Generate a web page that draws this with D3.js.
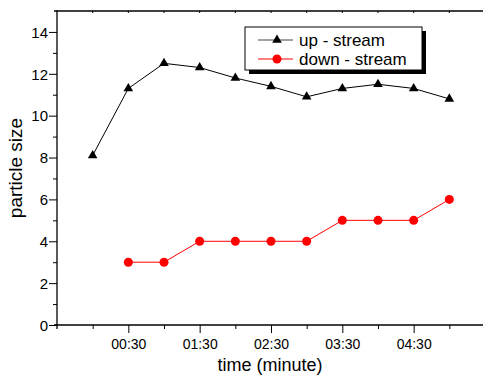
<!DOCTYPE html>
<html>
<head>
<meta charset="utf-8">
<script src="https://cdn.jsdelivr.net/npm/d3@7"></script>
<style>
  body { margin: 0; background: #fff; }
  svg { display: block; font-family: "Liberation Sans", Arial, sans-serif; }
</style>
</head>
<body>
<div id="chart"></div>
<script>
// sample times, one every 30 s
const times = ['00:00', '00:30', '01:00', '01:30', '02:00', '02:30', '03:00', '03:30', '04:00', '04:30', '05:00'];
const tickLabels = ['00:30', '01:30', '02:30', '03:30', '04:30'];
const upStream = [8.1, 11.3, 12.5, 12.3, 11.8, 11.4, 10.9, 11.3, 11.5, 11.3, 10.8];
// down-stream starts at 00:30
const downTimes = times.slice(1);
const downStream = [3, 3, 4, 4, 4, 4, 5, 5, 5, 6];
const yTicks = [0, 2, 4, 6, 8, 10, 12, 14];

const width = 483;
const height = 376;
const margin = { top: 11, left: 57, bottom: 51 };

const svg = d3.select('#chart').append('svg')
  .attr('width', width)
  .attr('height', height);

const x = d3.scaleLinear().domain([-1, 11]).range([margin.left, 485]);
const y = d3.scaleLinear().domain([0, 15]).range([height - margin.bottom, margin.top]);
const xi = t => x(times.indexOf(t));

// frame top line with small inward ticks
svg.append('line')
  .attr('x1', margin.left - 3).attr('x2', width)
  .attr('y1', y(15)).attr('y2', y(15))
  .attr('stroke', '#000').attr('stroke-width', 1.3);
svg.append('g')
  .selectAll('line')
  .data(d3.range(0, 11))
  .enter().append('line')
  .attr('x1', d => x(d)).attr('x2', d => x(d))
  .attr('y1', y(15)).attr('y2', y(15) + 2)
  .attr('stroke', '#000');

// x axis
const xAxis = svg.append('g')
  .attr('transform', `translate(0,${y(0)})`)
  .call(d3.axisBottom(x)
    .tickValues(d3.range(0, 11))
    .tickSize(4)
    .tickFormat(''));
xAxis.select('.domain').attr('stroke-width', 1.3).attr('d', `M${margin.left - 3},0H${width}`);
xAxis.selectAll('.tick')
  .filter(d => tickLabels.includes(times[d]))
  .select('line').attr('y2', 8);
xAxis.selectAll('.tick')
  .filter(d => tickLabels.includes(times[d]))
  .append('text')
  .attr('y', 24)
  .attr('fill', '#000')
  .attr('text-anchor', 'middle')
  .style('font-size', '14px')
  .text(d => times[d]);

// y axis
const yAxis = svg.append('g')
  .attr('transform', `translate(${margin.left},0)`)
  .call(d3.axisLeft(y)
    .tickValues(d3.range(0, 15))
    .tickSize(4)
    .tickFormat(''));
yAxis.select('.domain').attr('stroke-width', 1.3).attr('d', `M0,${y(0) + 4}V${y(15) - 0.5}`);
yAxis.selectAll('.tick')
  .filter(d => yTicks.includes(d))
  .select('line').attr('x2', -8);
yAxis.selectAll('.tick')
  .filter(d => yTicks.includes(d))
  .append('text')
  .attr('x', -9)
  .attr('dy', '0.35em')
  .attr('fill', '#000')
  .attr('text-anchor', 'end')
  .style('font-size', '15px')
  .text(d => d);

// axis titles
svg.append('text')
  .attr('x', 270).attr('y', 371)
  .attr('text-anchor', 'middle')
  .style('font-size', '18px')
  .text('time (minute)');
svg.append('text')
  .attr('transform', `translate(22,${y(7.5)}) rotate(-90)`)
  .attr('text-anchor', 'middle')
  .style('font-size', '19px')
  .text('particle size');

// series
const up = upStream.map((v, i) => ({ t: times[i], v }));
const down = downStream.map((v, i) => ({ t: downTimes[i], v }));
const line = d3.line().x(d => xi(d.t)).y(d => y(d.v));

svg.append('path').datum(up)
  .attr('d', line).attr('fill', 'none').attr('stroke', '#000').attr('stroke-width', 1);
svg.append('path').datum(down)
  .attr('d', line).attr('fill', 'none').attr('stroke', '#ff0000').attr('stroke-width', 1);

const tri = d3.symbol().type(d3.symbolTriangle).size(40);
svg.append('g').selectAll('path')
  .data(up)
  .enter().append('path')
  .attr('transform', d => `translate(${xi(d.t)},${y(d.v)})`)
  .attr('d', tri)
  .attr('fill', '#000');
svg.append('g').selectAll('circle')
  .data(down)
  .enter().append('circle')
  .attr('cx', d => xi(d.t))
  .attr('cy', d => y(d.v))
  .attr('r', 4.5)
  .attr('fill', '#ff0000');

// legend
const lg = svg.append('g').attr('transform', 'translate(245,27)');
lg.append('rect').attr('x', 4).attr('y', 4).attr('width', 177).attr('height', 43).attr('fill', '#000');
lg.append('rect').attr('width', 177).attr('height', 43).attr('fill', '#fff').attr('stroke', '#000').attr('stroke-width', 1);
const items = [
  { name: 'up - stream', color: '#000', shape: 'tri' },
  { name: 'down - stream', color: '#ff0000', shape: 'circle' }
];
items.forEach((it, i) => {
  const row = lg.append('g').attr('transform', `translate(0,${13 + i * 19})`);
  row.append('line').attr('x1', 13).attr('x2', 48)
    .attr('stroke', it.color === '#000' ? '#444' : it.color).attr('stroke-width', 1);
  if (it.shape === 'tri') {
    row.append('path').attr('transform', 'translate(32,0)').attr('d', tri).attr('fill', '#000');
  } else {
    row.append('circle').attr('cx', 32).attr('r', 4.5).attr('fill', it.color);
  }
  row.append('text').attr('x', 54).attr('dy', '0.35em')
    .style('font-size', '17px')
    .text(it.name);
});
</script>
</body>
</html>
